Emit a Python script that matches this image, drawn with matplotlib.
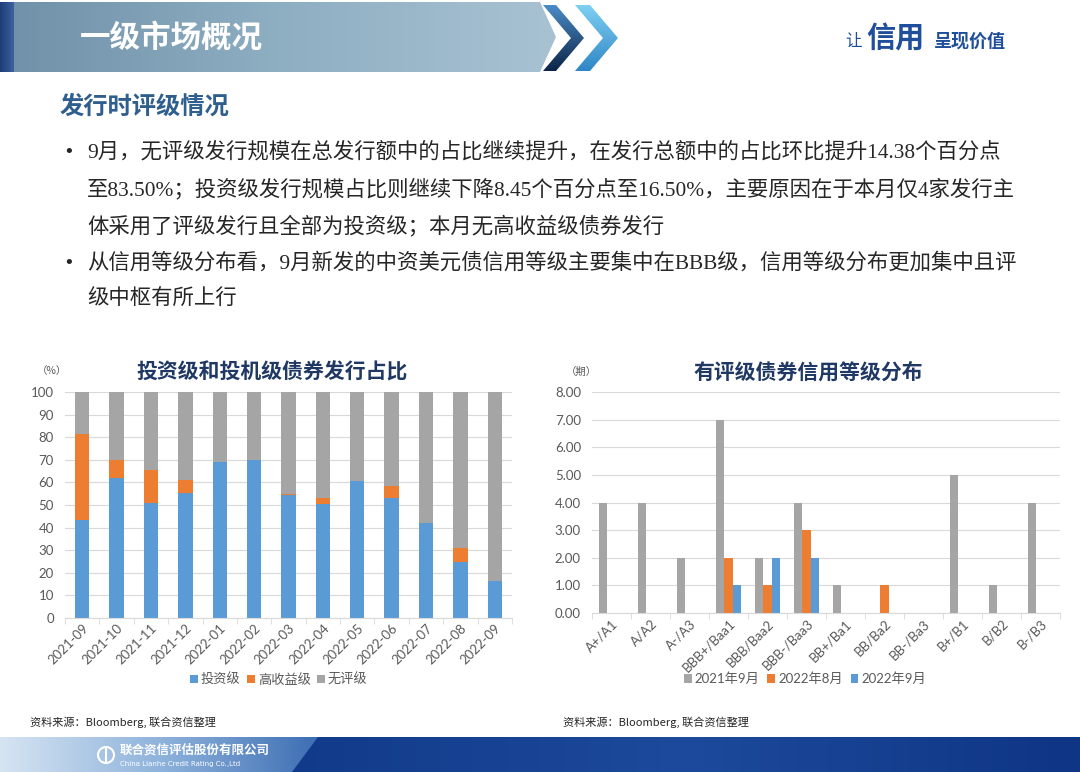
import numpy as np
import matplotlib
matplotlib.use("Agg")
import matplotlib.pyplot as plt
from matplotlib.patches import Polygon, Circle
from matplotlib.colors import LinearSegmentedColormap

# ---- data ----
months = ['2021-09', '2021-10', '2021-11', '2021-12', '2022-01', '2022-02', '2022-03',
          '2022-04', '2022-05', '2022-06', '2022-07', '2022-08', '2022-09']
invest_grade = [43.5, 62.0, 51.0, 55.5, 69.0, 70.0, 54.5, 50.5, 60.5, 53.3, 42.0, 24.95, 16.5]
high_yield = [38.0, 8.0, 14.5, 5.5, 0.0, 0.0, 0.5, 2.5, 0.0, 5.2, 0.0, 5.93, 0.0]
no_rating = [18.5, 30.0, 34.5, 39.0, 31.0, 30.0, 45.0, 47.0, 39.5, 41.5, 58.0, 69.12, 83.5]
share_labels = ['投资级', '高收益级', '无评级']

grades = ['A+/A1', 'A/A2', 'A-/A3', 'BBB+/Baa1', 'BBB/Baa2', 'BBB-/Baa3', 'BB+/Ba1',
          'BB/Ba2', 'BB-/Ba3', 'B+/B1', 'B/B2', 'B-/B3']
sep_2021 = [4, 4, 2, 7, 2, 4, 1, 0, 0, 5, 1, 4]
aug_2022 = [0, 0, 0, 2, 1, 3, 0, 1, 0, 0, 0, 0]
sep_2022 = [0, 0, 0, 1, 2, 2, 0, 0, 0, 0, 0, 0]
grade_labels = ['2021年9月', '2022年8月', '2022年9月']

BLUE = '#5B9BD5'
ORANGE = '#ED7D31'
GRAY = '#A5A5A5'
TICK = '#595959'
GRID = '#D9D9D9'
NAVY = '#1F3864'

CJK = 'Noto Sans CJK SC'
SANS = ['Lato', CJK]
SERIF = ['Liberation Serif', CJK]

W, H = 1080, 772
fig = plt.figure(figsize=(W / 100, H / 100), dpi=100)
fig.patch.set_facecolor('white')


def rect(left, top, right, bottom):
    return [left / W, 1 - bottom / H, (right - left) / W, (bottom - top) / H]


# ---- background / decoration layer in pixel coords ----
bg = fig.add_axes([0, 0, 1, 1])
bg.set_xlim(0, W)
bg.set_ylim(H, 0)
bg.axis('off')


def gradient_poly(ax, pts, colors, horizontal=True, z=1):
    pts = np.array(pts, dtype=float)
    x0, x1 = pts[:, 0].min(), pts[:, 0].max()
    y0, y1 = pts[:, 1].min(), pts[:, 1].max()
    cmap = LinearSegmentedColormap.from_list('g', colors)
    grad = np.linspace(0, 1, 256)
    img = grad[None, :] if horizontal else grad[:, None]
    im = ax.imshow(img, cmap=cmap, extent=(x0, x1, y1, y0), aspect='auto',
                   origin='upper', zorder=z, interpolation='bilinear')
    poly = Polygon(pts, closed=True, facecolor='none', edgecolor='none')
    ax.add_patch(poly)
    im.set_clip_path(poly)


# header band
gradient_poly(bg, [(0, 2), (540, 2), (556, 37), (540, 72), (0, 72)],
              ['#6f90a8', '#8eaec2', '#a8c2d2'], z=1)
gradient_poly(bg, [(0, 2), (14, 2), (14, 72), (0, 72)], ['#1c3c78', '#3d63a0'], z=2)
# chevrons
gradient_poly(bg, [(543, 5), (556, 5), (584, 38), (556, 71), (543, 71), (571, 38)],
              ['#4a8cc8', '#0c2447'], horizontal=False, z=3)
gradient_poly(bg, [(575, 5), (590, 5), (618, 38), (590, 71), (575, 71), (603, 38)],
              ['#7fd0f2', '#2f86c6'], horizontal=False, z=3)
bg.set_xlim(0, W)
bg.set_ylim(H, 0)

bg.text(80, 38, '一级市场概况', family=CJK, fontsize=22, fontweight='bold',
        color='white', va='center', ha='left', zorder=5)
bg.text(845, 41, '让', family=CJK, fontsize=12, color='#1f4e9a', va='center', zorder=5)
bg.text(866, 38, '信用', family=CJK, fontsize=21, color='#1f4e9a', va='center',
        fontweight='bold', style='italic', zorder=5)
bg.text(934, 41, '呈现价值', family=CJK, fontsize=13, color='#1f4e9a',
        va='center', fontweight='bold', zorder=5)

# subtitle and bullets
bg.text(60, 107, '发行时评级情况', family=CJK, fontsize=17.5, fontweight='bold',
        color='#2f5f8f', va='center')
lines = [
    '9月，无评级发行规模在总发行额中的占比继续提升，在发行总额中的占比环比提升14.38个百分点',
    '至83.50%；投资级发行规模占比则继续下降8.45个百分点至16.50%，主要原因在于本月仅4家发行主',
    '体采用了评级发行且全部为投资级；本月无高收益级债券发行',
    '从信用等级分布看，9月新发的中资美元债信用等级主要集中在BBB级，信用等级分布更加集中且评',
    '级中枢有所上行',
]
line_y = [152, 189, 226, 263, 300]
for txt, y in zip(lines, line_y):
    bg.text(87, y, txt, family=SERIF, fontsize=15.4, color='#262626', va='center')
for y in (152, 263):
    bg.text(63, y, '•', family='DejaVu Sans', fontsize=13, color='#262626', va='center')

# footer notes
for x in (30, 563):
    bg.text(x, 722, '资料来源：Bloomberg, 联合资信整理', family=[CJK], fontsize=8,
            color='#262626', va='center', style='italic')

# bottom band
gradient_poly(bg, [(0, 737), (320, 737), (294, 772), (0, 772)],
              ['#d6e4f2', '#8fb3dc', '#3c6db3'], z=1)
gradient_poly(bg, [(318, 737), (1080, 737), (1080, 772), (292, 772)],
              ['#123a8a', '#1d4a9c', '#0f3585'], z=1)
bg.set_xlim(0, W)
bg.set_ylim(H, 0)
bg.add_patch(Circle((106, 755), 8, facecolor='none', edgecolor='white', lw=1.5, zorder=4))
bg.plot([106, 106], [749, 761], color='white', lw=1.5, zorder=4)
bg.text(120, 750, '联合资信评估股份有限公司', family=CJK, fontsize=9, fontweight='bold',
        color='white', va='center', zorder=5)
bg.text(120, 764, 'China Lianhe Credit Rating Co.,Ltd', family='DejaVu Sans', fontsize=5,
        color='white', va='center', zorder=5)


def style_axes(ax):
    for s in ('top', 'right', 'left'):
        ax.spines[s].set_visible(False)
    ax.spines['bottom'].set_color(GRID)
    ax.grid(axis='y', color=GRID, lw=0.8)
    ax.set_axisbelow(True)
    ax.tick_params(axis='y', length=0, pad=8, labelcolor=TICK, labelsize=9.5)
    ax.tick_params(axis='x', which='major', length=0, labelcolor=TICK, labelsize=9.5, pad=3)
    ax.tick_params(axis='x', which='minor', length=4, color=GRID)
    for lab in ax.get_yticklabels():
        lab.set_family(SANS)
    ax.set_facecolor('none')


# ---- left chart ----
ax1 = fig.add_axes(rect(65, 392, 512, 618))
x = np.arange(len(months))
bw = 0.42
ig = np.array(invest_grade)
hy = np.array(high_yield)
nr = np.array(no_rating)
ax1.bar(x, ig, bw, color=BLUE, label=share_labels[0])
ax1.bar(x, hy, bw, bottom=ig, color=ORANGE, label=share_labels[1])
ax1.bar(x, nr, bw, bottom=ig + hy, color=GRAY, label=share_labels[2])
ax1.set_xlim(-0.5, len(months) - 0.5)
ax1.set_ylim(0, 100)
ax1.set_yticks(range(0, 101, 10))
ax1.set_xticks(x)
ax1.set_xticks(np.arange(-0.5, len(months), 1), minor=True)
ax1.set_xticklabels(months, rotation=45, ha='right', rotation_mode='anchor', family=SANS)
style_axes(ax1)
fig.text(272 / W, 1 - 372 / H, '投资级和投机级债券发行占比', family=CJK, fontsize=15,
         fontweight='bold', color=NAVY, ha='center', va='center')
fig.text(52 / W, 1 - 371 / H, '（%）', family=CJK, fontsize=7.5, color=TICK,
         ha='center', va='center')
fig.legend(*ax1.get_legend_handles_labels(), loc='center', bbox_to_anchor=(279 / W, 1 - 679 / H),
           ncol=3, frameon=False, handlelength=0.6, handleheight=0.6, handletextpad=0.2,
           columnspacing=0.5, prop={'family': SANS, 'size': 9.5}, labelcolor=TICK)

# ---- right chart ----
ax2 = fig.add_axes(rect(592, 392, 1060, 613))
g = np.arange(len(grades))
w2 = 0.21
ax2.bar(g - w2, sep_2021, w2, color=GRAY, label=grade_labels[0])
ax2.bar(g, aug_2022, w2, color=ORANGE, label=grade_labels[1])
ax2.bar(g + w2, sep_2022, w2, color=BLUE, label=grade_labels[2])
ax2.set_xlim(-0.5, len(grades) - 0.5)
ax2.set_ylim(0, 8)
ax2.set_yticks(range(0, 9))
ax2.set_yticklabels(['%.2f' % v for v in range(0, 9)])
ax2.set_xticks(g)
ax2.set_xticks(np.arange(-0.5, len(grades), 1), minor=True)
ax2.set_xticklabels(grades, rotation=45, ha='right', rotation_mode='anchor', family=SANS)
style_axes(ax2)
fig.text(808 / W, 1 - 372 / H, '有评级债券信用等级分布', family=CJK, fontsize=15,
         fontweight='bold', color=NAVY, ha='center', va='center')
fig.text(581 / W, 1 - 372 / H, '（期）', family=CJK, fontsize=7.5, color=TICK,
         ha='center', va='center')
fig.legend(*ax2.get_legend_handles_labels(), loc='center', bbox_to_anchor=(805 / W, 1 - 679 / H),
           ncol=3, frameon=False, handlelength=0.6, handleheight=0.6, handletextpad=0.2,
           columnspacing=0.6, prop={'family': SANS, 'size': 9.5}, labelcolor=TICK)

fig.savefig('out.png', dpi=100)
